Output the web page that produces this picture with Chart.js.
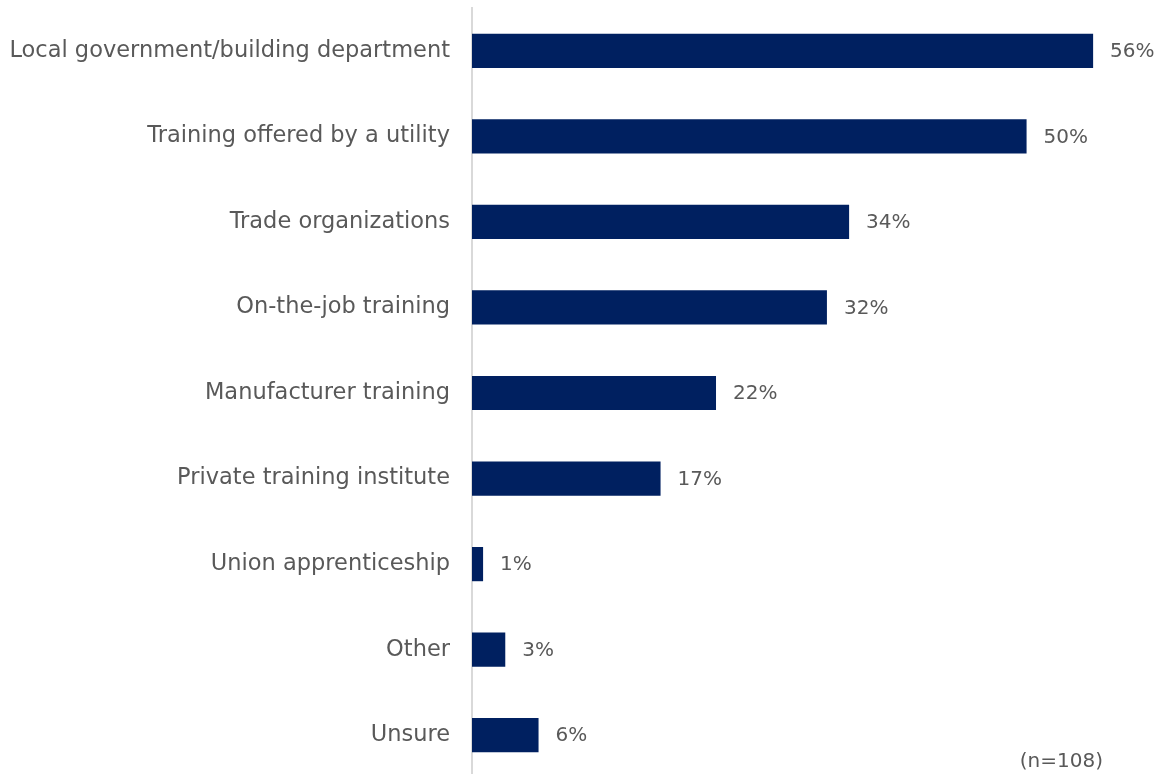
<!DOCTYPE html>
<html>
<head>
<meta charset="utf-8">
<script src="https://cdn.jsdelivr.net/npm/chart.js@4"></script>
<style>
	html, body { margin: 0; padding: 0; background: #fff; overflow: hidden; }
	#wrap { width: 1163px; height: 778px; position: relative; }
</style>
</head>
<body>
<div id="wrap"><canvas id="sources-chart"></canvas></div>
<script>
const categories = [
	'Local government/building department',
	'Training offered by a utility',
	'Trade organizations',
	'On-the-job training',
	'Manufacturer training',
	'Private training institute',
	'Union apprenticeship',
	'Other',
	'Unsure',
]
const percentValues = [56, 50, 34, 32, 22, 17, 1, 3, 6]
const sampleNote = '(n=108)'

const textColor = '#595959'
const barColor = '#002060'
const fontFamily = '"DejaVu Sans", Verdana, sans-serif'

// percent labels right after each bar, plus the sample size note
const valueLabels = {
	id: 'valueLabels',
	afterDatasetsDraw(chart) {
		const ctx = chart.ctx
		const meta = chart.getDatasetMeta(0)
		ctx.save()
		ctx.fillStyle = textColor
		ctx.font = '20px ' + fontFamily
		ctx.textAlign = 'left'
		ctx.textBaseline = 'middle'
		meta.data.forEach((bar, i) => {
			ctx.fillText(percentValues[i] + '%', bar.x + 17, bar.y + 1)
		})
		ctx.textAlign = 'right'
		ctx.fillText(sampleNote, 1103, 762)
		ctx.restore()
	},
}

const ctxSources = document.getElementById('sources-chart').getContext('2d')
new Chart(ctxSources, {
	type: 'bar',
	data: {
		labels: categories,
		datasets: [
			{
				data: percentValues,
				backgroundColor: barColor,
				borderWidth: 0,
				barPercentage: 0.4,
				categoryPercentage: 1,
			},
		],
	},
	options: {
		indexAxis: 'y',
		responsive: true,
		maintainAspectRatio: false,
		animation: false,
		layout: { padding: { top: 8, right: 0, bottom: 0, left: 0 } },
		plugins: {
			legend: { display: false },
			tooltip: { enabled: false },
		},
		scales: {
			x: {
				display: false,
				min: 0,
				max: 62.3,
			},
			y: {
				afterFit(scale) {
					scale.width = 472
					scale.paddingTop = 0
					scale.paddingBottom = 0
				},
				grid: { display: false, drawTicks: false },
				border: { display: true, color: '#d9d9d9', width: 2 },
				ticks: {
					color: textColor,
					padding: 22,
					font: { family: fontFamily, size: 22.5 },
				},
			},
		},
	},
	plugins: [valueLabels],
})
</script>
</body>
</html>
